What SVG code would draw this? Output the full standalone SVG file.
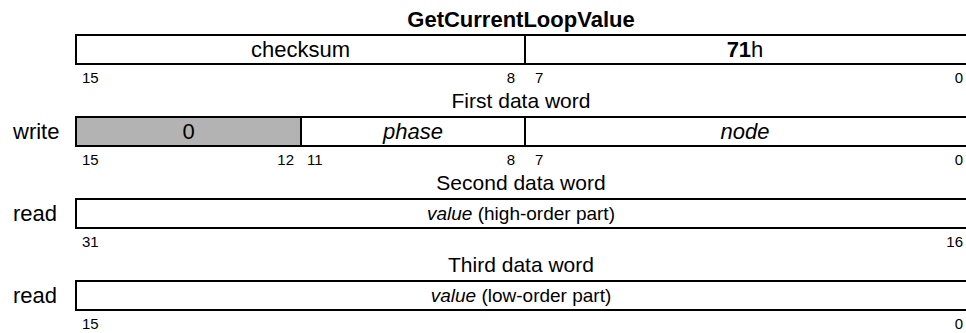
<svg xmlns="http://www.w3.org/2000/svg" width="966" height="333" viewBox="0 0 966 333">
<style>
.t{font-family:"Liberation Sans",Arial,sans-serif;font-size:22px;fill:#000}
.w{font-size:21px}
.v{font-size:19px}
.b{font-family:"Liberation Sans",Arial,sans-serif;font-size:15px;fill:#000}
.c{text-anchor:middle}
.r{text-anchor:end}
.i{font-style:italic}
.box{fill:#fff;stroke:#000;stroke-width:2}
.ln{stroke:#000;stroke-width:2}
</style>
<rect width="966" height="333" fill="#fff"/>
<text class="t c" x="521" y="27" font-weight="bold">GetCurrentLoopValue</text>
<g id="word0">
<rect class="box" x="76" y="35" width="895" height="29"/>
<line class="ln" x1="525" y1="35" x2="525" y2="64"/>
<text class="t c" x="300.5" y="57">checksum</text>
<text class="t c" x="745" y="57"><tspan font-weight="bold">71</tspan>h</text>
<text class="b" x="82" y="83">15</text>
<text class="b r" x="515" y="83">8</text>
<text class="b" x="535" y="83">7</text>
<text class="b r" x="963" y="83">0</text>
</g>
<text class="t w c" x="521" y="108">First data word</text>
<g id="word1">
<text class="t" x="13" y="139">write</text>
<rect class="box" x="76" y="117" width="895" height="29"/>
<rect x="77" y="118" width="224" height="27" fill="#b3b3b3"/>
<line class="ln" x1="301" y1="117" x2="301" y2="146"/>
<line class="ln" x1="525" y1="117" x2="525" y2="146"/>
<text class="t c" x="188.5" y="139">0</text>
<text class="t c i" x="413" y="139">phase</text>
<text class="t c i" x="745" y="139">node</text>
<text class="b" x="82" y="165">15</text>
<text class="b r" x="294" y="165">12</text>
<text class="b" x="307" y="165">11</text>
<text class="b r" x="515" y="165">8</text>
<text class="b" x="535" y="165">7</text>
<text class="b r" x="963" y="165">0</text>
</g>
<text class="t w c" x="521" y="190">Second data word</text>
<g id="word2">
<text class="t" x="13" y="221">read</text>
<rect class="box" x="76" y="199" width="895" height="29"/>
<text class="t v c" x="521" y="220"><tspan class="i">value</tspan> (high-order part)</text>
<text class="b" x="82" y="247">31</text>
<text class="b r" x="963" y="247">16</text>
</g>
<text class="t w c" x="521" y="272">Third data word</text>
<g id="word3">
<text class="t" x="13" y="303">read</text>
<rect class="box" x="76" y="281" width="895" height="29"/>
<text class="t v c" x="521" y="302"><tspan class="i">value</tspan> (low-order part)</text>
<text class="b" x="82" y="329">15</text>
<text class="b r" x="963" y="329">0</text>
</g>
</svg>
